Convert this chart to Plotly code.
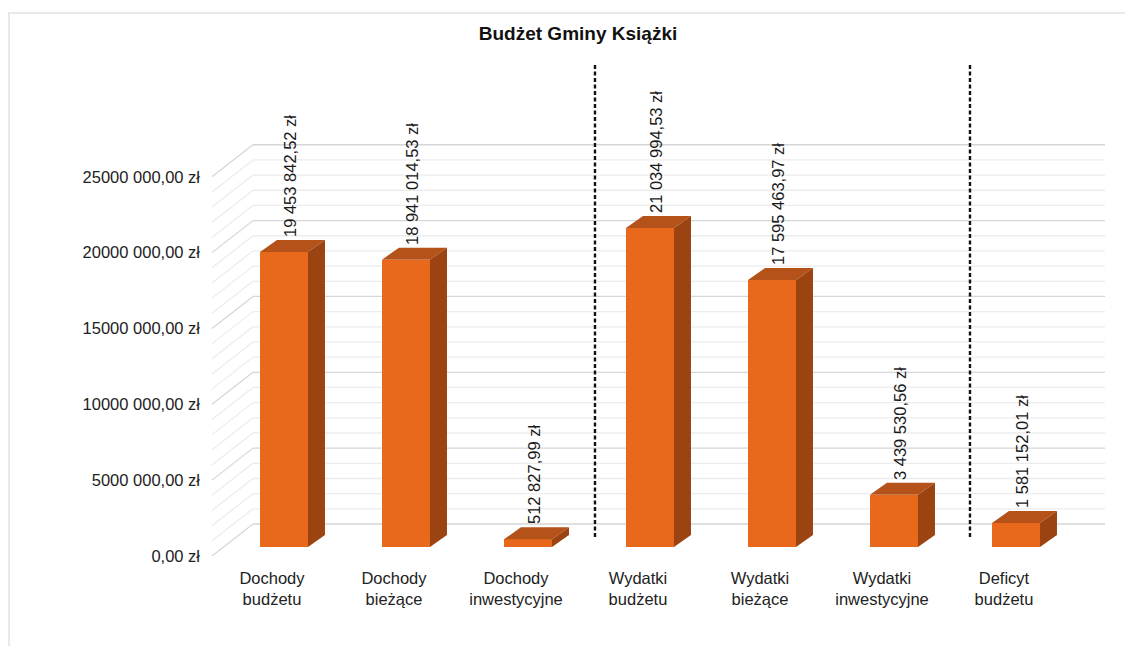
import plotly.graph_objects as go

# ---------------- data ----------------
title_text = "Budżet Gminy Książki"
categories = ["Dochody<br>budżetu", "Dochody<br>bieżące", "Dochody<br>inwestycyjne",
              "Wydatki<br>budżetu", "Wydatki<br>bieżące", "Wydatki<br>inwestycyjne",
              "Deficyt<br>budżetu"]
values = [19453842.52, 18941014.53, 512827.99, 21034994.53, 17595463.97, 3439530.56, 1581152.01]
value_labels = ["19 453 842,52 zł", "18 941 014,53 zł", "512 827,99 zł", "21 034 994,53 zł",
                "17 595 463,97 zł", "3 439 530,56 zł", "1 581 152,01 zł"]
tick_values = [0, 5000000, 10000000, 15000000, 20000000, 25000000]
tick_labels = ["0,00 zł", "5000 000,00 zł", "10000 000,00 zł", "15000 000,00 zł",
               "20000 000,00 zł", "25000 000,00 zł"]
grid_step = 1000000
separators_after = [2, 5]   # dashed separators after these category indices

# ---------------- layout geometry ----------------
PAGE = 8                       # browser body margin
W, H = 1133, 646
ML, MR, MT, MB = 205 - PAGE, 23 + PAGE, 55 - PAGE, 83 + PAGE
X_RANGE = [-0.549, 6.869]
Y_RANGE = [-1054700, 32432000]
plot_w = W - ML - MR
plot_h = H - MT - MB
ux = plot_w / (X_RANGE[1] - X_RANGE[0])      # px per category unit
uy = plot_h / (Y_RANGE[1] - Y_RANGE[0])      # px per value unit


def dxu(px):
    return px / ux


def dyu(px):
    return px / uy


FONT = "Liberation Sans, Arial, sans-serif"
FRONT = "#E8691C"
TOP = "#B4521A"
SIDE = "#9B4412"
BAR_SHIFT = dxu(12)
BAR_W = dxu(48)
DEPTH_X, DEPTH_Y = dxu(17), dyu(12)
LABEL_DROP = dyu(9)
WALL_BACK_Y = dyu(23)
WALL_FRONT_X = dxu(-60)
WALL_BACK_X = dxu(-19)
WALL_RIGHT_X = X_RANGE[1] - dxu(5)

n = len(values)
xb = [i + BAR_SHIFT for i in range(n)]

fig = go.Figure()

shapes = []
# back wall + left wall grid
v = 0
top_val = tick_values[-1]
while v <= top_val + 1:
    major = (v % 5000000) == 0
    col = "#d6d6d6" if major else "#ececec"
    shapes.append(dict(type="line", xref="x", yref="y", layer="below",
                       x0=WALL_BACK_X, x1=WALL_RIGHT_X, y0=v + WALL_BACK_Y, y1=v + WALL_BACK_Y,
                       line=dict(color=col, width=1.3)))
    shapes.append(dict(type="line", xref="x", yref="y", layer="below",
                       x0=WALL_FRONT_X, x1=WALL_BACK_X, y0=v - LABEL_DROP, y1=v + WALL_BACK_Y,
                       line=dict(color=col, width=1.2)))
    v += grid_step

# front faces
fig.add_trace(go.Bar(x=xb, y=values, width=BAR_W,
                     marker=dict(color=FRONT, line=dict(width=0)),
                     hoverinfo="skip", showlegend=False))

# 3D top and side faces
for x, val in zip(xb, values):
    xl, xr = x - BAR_W / 2, x + BAR_W / 2
    top_path = (f"M {xl},{val} L {xr},{val} L {xr + DEPTH_X},{val + DEPTH_Y} "
                f"L {xl + DEPTH_X},{val + DEPTH_Y} Z")
    side_path = (f"M {xr},0 L {xr},{val} L {xr + DEPTH_X},{val + DEPTH_Y} "
                 f"L {xr + DEPTH_X},{DEPTH_Y} Z")
    shapes.append(dict(type="path", xref="x", yref="y", path=top_path,
                       fillcolor=TOP, line=dict(width=0), layer="above"))
    shapes.append(dict(type="path", xref="x", yref="y", path=side_path,
                       fillcolor=SIDE, line=dict(width=0), layer="above"))

# dashed separators
sep_offsets = [dxu(6), dxu(15)]
for k, s in enumerate(separators_after):
    xs = s + 0.5 + BAR_SHIFT + sep_offsets[k]
    shapes.append(dict(type="line", xref="x", yref="y",
                       x0=xs, x1=xs, y0=dyu(10), y1=Y_RANGE[1] - dyu(8 + 2 * k),
                       line=dict(color="#111111", width=2.4, dash="4px,2.5px")))

# frame (top and left edge of the surrounding box)
fx = -ML / plot_w
fy = 1 + (MT - 5) / plot_h
shapes.append(dict(type="line", xref="paper", yref="paper", x0=fx, x1=1 + MR / plot_w,
                   y0=fy, y1=fy, line=dict(color="#e2e2e2", width=1.5)))
shapes.append(dict(type="line", xref="paper", yref="paper", x0=fx + 1 / plot_w, x1=fx + 1 / plot_w,
                   y0=fy, y1=-MB / plot_h, line=dict(color="#e2e2e2", width=1.5)))

# value labels (invisible carrier bars, placed above 3D top)
fig.add_trace(go.Bar(x=[x + dxu(6) for x in xb], y=[vv + DEPTH_Y for vv in values], width=BAR_W,
                     marker=dict(color="rgba(0,0,0,0)", line=dict(width=0)), text=value_labels,
                     textposition="outside", textangle=-90, cliponaxis=False,
                     constraintext="none",
                     textfont=dict(family=FONT, size=16.5, color="#1a1a1a"),
                     hoverinfo="skip", showlegend=False))

# carrier for tick-label axis
fig.add_trace(go.Scatter(x=[None], y=[None], yaxis="y2", showlegend=False, hoverinfo="skip"))

fig.update_layout(
    width=W, height=H,
    margin=dict(l=ML, r=MR, t=MT, b=MB),
    paper_bgcolor="white", plot_bgcolor="white",
    barmode="overlay",
    bargap=0,
    title=dict(text=f"<b>{title_text}</b>", x=(578 - PAGE) / W, xanchor="center",
               y=1 - (33 - PAGE) / H, yanchor="middle",
               font=dict(family=FONT, size=19, color="#111111")),
    xaxis=dict(range=X_RANGE, tickmode="array", tickvals=list(range(n)), ticktext=categories,
               showgrid=False, zeroline=False, showline=False, ticks="",
               ticklabelstandoff=3,
               tickfont=dict(family=FONT, size=16.5, color="#222222")),
    yaxis=dict(range=Y_RANGE, showgrid=False, zeroline=False, showline=False,
               showticklabels=False, ticks=""),
    yaxis2=dict(range=[Y_RANGE[0] + LABEL_DROP, Y_RANGE[1] + LABEL_DROP], overlaying="y",
                side="left", anchor="x", tickmode="array", tickvals=tick_values,
                ticktext=tick_labels, showgrid=False, zeroline=False, showline=False, ticks="",
                ticklabelstandoff=4,
                tickfont=dict(family=FONT, size=16.5, color="#222222")),
    shapes=shapes,
)

fig.write_html("out.html")
